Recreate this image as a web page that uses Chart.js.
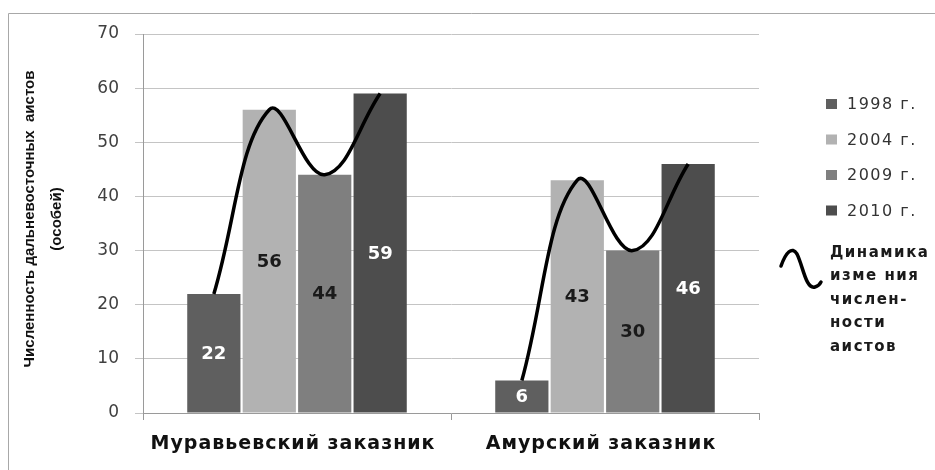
<!DOCTYPE html>
<html>
<head>
<meta charset="utf-8">
<script src="https://cdn.jsdelivr.net/npm/chart.js@4.4.1/dist/chart.umd.min.js"></script>
<style>
  html, body { margin: 0; padding: 0; background: #fff; }
  #wrap { width: 935px; height: 470px; }
</style>
</head>
<body>
<div id="wrap"><canvas id="grafico" width="935" height="470"></canvas></div>
<script>
const categories = ["Муравьевский заказник", "Амурский заказник"];
const years = ["1998 г.", "2004 г.", "2009 г.", "2010 г."];
const counts1998 = [22, 6];
const counts2004 = [56, 43];
const counts2009 = [44, 30];
const counts2010 = [59, 46];
const yMax = 70;
const yStep = 10;
const dynamicsLabel = ["Динамика", "изме ния", "числен-", "ности", "аистов"];
const yTitle = ["Численность дальневосточных  аистов", "(особей)"];

const series = [counts1998, counts2004, counts2009, counts2010];
const barColors = ["#5f5f5f", "#b2b2b2", "#7f7f7f", "#4d4d4d"];
const valueColors = ["#ffffff", "#1a1a1a", "#1a1a1a", "#ffffff"];

const catPct = 0.72;
const barPct = 0.96;

// bars and curve share one linear x axis: category i sits at x = i
const slot = catPct / series.length;
const curvePoints = [];
categories.forEach((c, i) => {
    series.forEach((s, k) => {
        curvePoints.push({ x: i + (k - (series.length - 1) / 2) * slot, y: s[i] });
    });
    curvePoints.push({ x: i + 0.5, y: null });
});

const datasets = series.map((s, k) => ({
    label: years[k],
    data: s.map((v, i) => ({ x: i, y: v })),
    backgroundColor: barColors[k],
    borderWidth: 0,
    categoryPercentage: catPct,
    barPercentage: barPct,
    order: 1
}));

datasets.push({
    type: "line",
    label: "dinamika",
    data: curvePoints,
    borderColor: "#000",
    borderWidth: 3.5,
    tension: 0.4,
    pointRadius: 0,
    spanGaps: false,
    fill: false,
    order: 0
});

const molduraPlugin = {
    id: "moldura",
    beforeDraw(chart) {
        const ctx = chart.ctx;
        ctx.save();
        ctx.strokeStyle = "#a8a8a8";
        ctx.lineWidth = 1;
        ctx.beginPath();
        ctx.moveTo(8.5, 470);
        ctx.lineTo(8.5, 13.5);
        ctx.lineTo(935, 13.5);
        ctx.stroke();
        ctx.restore();
    }
};

const textosPlugin = {
    id: "textos",
    afterDatasetsDraw(chart) {
        const ctx = chart.ctx;
        ctx.save();
        ctx.font = "bold 18px 'DejaVu Sans'";
        ctx.textAlign = "center";
        ctx.textBaseline = "middle";
        series.forEach((s, k) => {
            const meta = chart.getDatasetMeta(k);
            meta.data.forEach((bar, i) => {
                ctx.fillStyle = valueColors[k];
                ctx.fillText(String(s[i]), bar.x, (bar.y + bar.base) / 2 + 1);
            });
        });

        // category names under the x axis
        const xs = chart.scales.x;
        ctx.font = "bold 19px 'DejaVu Sans'";
        ctx.letterSpacing = "1px";
        ctx.fillStyle = "#111";
        categories.forEach((c, i) => {
            ctx.fillText(c, xs.getPixelForValue(i) - 4, 444);
        });
        ctx.letterSpacing = "0px";
        ctx.restore();
    }
};

const legendaPlugin = {
    id: "legenda",
    afterDraw(chart) {
        const ctx = chart.ctx;
        ctx.save();
        ctx.font = "16px 'DejaVu Sans'";
        ctx.letterSpacing = "1.5px";
        ctx.textBaseline = "middle";
        years.forEach((y, k) => {
            const cy = 104 + k * 35.5;
            ctx.fillStyle = barColors[k];
            ctx.fillRect(826, cy - 5, 11, 10);
            ctx.fillStyle = "#333";
            ctx.fillText(y, 847, cy + 1);
        });

        // wave symbol
        ctx.strokeStyle = "#000";
        ctx.lineWidth = 3.5;
        ctx.lineCap = "round";
        ctx.beginPath();
        ctx.moveTo(781, 266);
        ctx.bezierCurveTo(786, 252, 792, 246, 797, 254);
        ctx.bezierCurveTo(803, 266, 806, 290, 815, 287);
        ctx.quadraticCurveTo(819, 286, 821, 282);
        ctx.stroke();

        ctx.fillStyle = "#1a1a1a";
        ctx.font = "bold 15px 'DejaVu Sans'";
        dynamicsLabel.forEach((t, i) => {
            ctx.fillText(t, 830, 253 + i * 23.5);
        });

        // y axis title
        ctx.letterSpacing = "0px";
        ctx.font = "bold 15px 'Liberation Sans Narrow', 'Liberation Sans'";
        ctx.textAlign = "center";
        ctx.fillStyle = "#111";
        yTitle.forEach((t, i) => {
            ctx.save();
            ctx.translate(30 + i * 27, 219);
            ctx.rotate(-Math.PI / 2);
            ctx.fillText(t, 0, 0);
            ctx.restore();
        });
        ctx.restore();
    }
};

new Chart(document.getElementById("grafico"), {
    type: "bar",
    data: { datasets: datasets },
    options: {
        responsive: false,
        animation: false,
        layout: { padding: { left: 0, right: 176, top: 34, bottom: 0 } },
        plugins: {
            legend: { display: false },
            tooltip: { enabled: false }
        },
        scales: {
            x: {
                type: "linear",
                offset: false,
                min: -0.5,
                max: categories.length - 0.5,
                // tick marks only between the groups
                afterBuildTicks: s => {
                    s.ticks = [];
                    for (let i = 0; i <= categories.length; i++) s.ticks.push({ value: i - 0.5 });
                },
                afterFit: s => { s.height = 57; },
                grid: { drawOnChartArea: false, offset: false, tickLength: 7, color: "#9a9a9a" },
                border: { color: "#9a9a9a" },
                ticks: { display: false }
            },
            y: {
                min: 0,
                max: yMax,
                afterFit: s => { s.width = 143; },
                grid: { color: "#c4c4c4", tickLength: 8 },
                border: { color: "#9a9a9a" },
                ticks: {
                    stepSize: yStep,
                    color: "#404040",
                    padding: 16,
                    font: { family: "'DejaVu Sans'", size: 17 }
                }
            }
        }
    },
    plugins: [molduraPlugin, textosPlugin, legendaPlugin]
});
</script>
</body>
</html>
